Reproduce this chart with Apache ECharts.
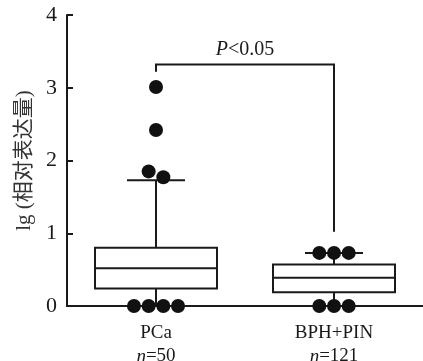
<!DOCTYPE html>
<html>
<head>
<meta charset="utf-8">
<script src="https://cdn.jsdelivr.net/npm/echarts@6/dist/echarts.min.js"></script>
<style>
html, body { margin: 0; padding: 0; background: #fff; }
#main { width: 423px; height: 361px; }
</style>
</head>
<body>
<div id="main"></div>
<script>
// groups
var groups = ['PCa', 'BPH+PIN'];
var groupN = [50, 121];
// box stats: [min, Q1, median, Q3, max]
var boxStats = [
	[0, 0.24, 0.52, 0.80, 1.73],
	[0, 0.19, 0.39, 0.57, 0.73]
];
// points drawn as dots
var dotsPCa = [0, 0, 0, 0, 1.85, 1.77, 2.42, 3.01];
var dotsBPH = [0, 0, 0, 0.73, 0.73, 0.73];
// significance bracket
var bracketY = 3.32;
var bracketLeftEnd = 3.22;
var bracketRightEnd = 1.02;
var yTicks = [0, 1, 2, 3, 4];

var font = '"Liberation Serif", "Times New Roman", serif';
var ink = '#1a1a1a';

// spread dots that sit at nearly the same level
function spread(vals, center, step) {
	var out = [];
	var used = [];
	for (var i = 0; i < vals.length; i++) {
		if (used[i]) continue;
		var cl = [i];
		for (var j = i + 1; j < vals.length; j++) {
			if (!used[j] && Math.abs(vals[j] - vals[i]) < 0.15) { cl.push(j); used[j] = true; }
		}
		used[i] = true;
		for (var k = 0; k < cl.length; k++) {
			out.push([center + (k - (cl.length - 1) / 2) * step, vals[cl[k]]]);
		}
	}
	return out;
}
var dotData = spread(dotsPCa, 1, 0.165).concat(spread(dotsBPH, 3, 0.165));

var myChart = echarts.init(document.getElementById('main'));
myChart.setOption({
	animation: false,
	grid: { left: 67, right: 0, top: 15, bottom: 55, outerBoundsMode: 'none' },
	xAxis: [{
		type: 'category',
		data: groups,
		axisLine: { lineStyle: { color: ink, width: 2 } },
		axisTick: { show: false },
		axisLabel: {
			margin: 16,
			lineHeight: 23,
			formatter: function (v, i) {
				return v + '\n{i|n}=' + groupN[i];
			},
			color: ink, fontFamily: font, fontSize: 19,
			rich: { i: { fontStyle: 'italic', fontFamily: font, fontSize: 19, color: ink, lineHeight: 23 } }
		}
	}, {
		type: 'value', min: 0, max: 4, show: false
	}],
	yAxis: {
		type: 'value', min: 0, max: 4, interval: 1,
		name: 'lg (相对表达量)',
		nameLocation: 'middle',
		nameGap: 32,
		nameTextStyle: { fontFamily: font + ', "Noto Sans CJK SC"', fontSize: 21, color: '#333' },
		axisLine: { show: true, lineStyle: { color: ink, width: 2 } },
		axisTick: { show: true, inside: true, length: 6, lineStyle: { color: ink, width: 2 } },
		axisLabel: {
			color: ink, fontFamily: font, fontSize: 22, margin: 10,
			formatter: function (v) { return yTicks.indexOf(v) >= 0 ? String(v) : ''; }
		},
		splitLine: { show: false }
	},
	series: [{
		type: 'custom',
		xAxisIndex: 0,
		data: boxStats,
		renderItem: function (params, api) {
			var c = params.dataIndex;
			var x = api.coord([c, 0])[0];
			var half = 61, cap = 29;
			var y = [];
			for (var i = 0; i < 5; i++) y.push(api.coord([c, boxStats[c][i]])[1]);
			var st = { stroke: ink, lineWidth: 2, fill: null };
			return {
				type: 'group',
				children: [
					{ type: 'rect', shape: { x: x - half, y: y[3], width: half * 2, height: y[1] - y[3] }, style: { stroke: ink, lineWidth: 2, fill: '#fff' } },
					{ type: 'line', shape: { x1: x - half, y1: y[2], x2: x + half, y2: y[2] }, style: st },
					{ type: 'line', shape: { x1: x, y1: y[3], x2: x, y2: y[4] }, style: st },
					{ type: 'line', shape: { x1: x, y1: y[1], x2: x, y2: y[0] }, style: st },
					{ type: 'line', shape: { x1: x - cap, y1: y[4], x2: x + cap, y2: y[4] }, style: st }
				]
			};
		},
		z: 2
	}, {
		type: 'scatter',
		xAxisIndex: 1,
		data: dotData,
		symbolSize: 14,
		itemStyle: { color: '#111', opacity: 1 },
		z: 3
	}, {
		type: 'custom',
		xAxisIndex: 0,
		data: [[0]],
		renderItem: function (params, api) {
			var l = api.coord([0, bracketY]);
			var r = api.coord([1, bracketY]);
			var le = api.coord([0, bracketLeftEnd])[1];
			var re = api.coord([1, bracketRightEnd])[1];
			var st = { stroke: ink, lineWidth: 2, fill: null };
			return {
				type: 'group',
				children: [
					{ type: 'polyline', shape: { points: [[l[0], le], [l[0], l[1]], [r[0], r[1]], [r[0], re]] }, style: st },
					{ type: 'text', x: (l[0] + r[0]) / 2, y: l[1] - 5, style: {
						text: '{i|P}<0.05', textAlign: 'center', textVerticalAlign: 'bottom',
						fontFamily: font, fontSize: 20, fill: ink,
						rich: { i: { fontStyle: 'italic', fontFamily: font, fontSize: 20, color: ink } }
					} }
				]
			};
		},
		z: 1
	}]
});
</script>
</body>
</html>
